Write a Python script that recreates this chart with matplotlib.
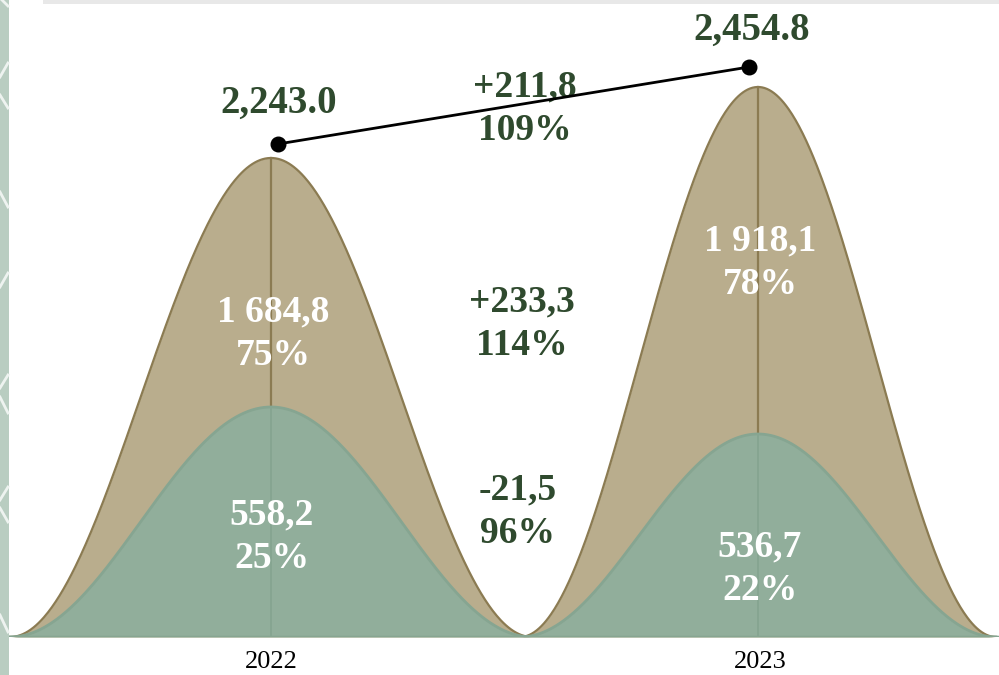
import numpy as np
import matplotlib
matplotlib.use("Agg")
import matplotlib.pyplot as plt
from matplotlib.lines import Line2D
from matplotlib.patches import Rectangle

# values
years = ["2022", "2023"]
total = [2243.0, 2454.8]
main_part = [1684.8, 1918.1]   # tan
base_part = [558.2, 536.7]     # green

# bell heights as they are drawn in the picture (axis units = px above baseline)
bell_total = [479, 550]
bell_base = [230, 203]
dot_height = [493, 570]

TAN, TAN_EDGE = "#b9ad8d", "#8b7b52"
GREEN, GREEN_EDGE = "#91ae9b", "#86a591"
DARK = "#2f4a2e"
SERIF = "Liberation Serif"


def ru(v, dec=1):
    # 1 684,8 style
    s = f"{v:,.{dec}f}"
    return s.replace(",", " ").replace(".", ",")


def bell(x, c, w, h):
    t = np.clip((x - c) / w, -1, 1)
    return h * (1 + np.cos(np.pi * t)) / 2


fig = plt.figure(figsize=(9.99, 6.75), dpi=100)
ax = fig.add_axes([0, 38 / 675, 1, 637 / 675])
ax.set_xlim(-271 / 487, (999 - 271) / 487)
ax.set_ylim(0, 637)

half_w = [261 / 487, 238 / 487]
xs = [np.linspace(i - half_w[i], i + half_w[i], 400) for i in range(2)]

# tan bells
for i in range(2):
    y = bell(xs[i], i, half_w[i], bell_total[i])
    ax.fill_between(xs[i], 0, y, color=TAN, lw=0, zorder=1)
    ax.plot(xs[i], y, color=TAN_EDGE, lw=1.6, zorder=2)
    ax.plot([i, i], [0, bell_total[i]], color=TAN_EDGE, lw=1.6, zorder=2)

# green bells
for i in range(2):
    y = bell(xs[i], i, half_w[i], bell_base[i])
    ax.fill_between(xs[i], 0, y, color=GREEN, lw=0, zorder=3)
    ax.plot(xs[i], y, color=GREEN_EDGE, lw=2, zorder=4)
    ax.plot([i, i], [0, bell_base[i]], color=GREEN_EDGE, lw=1.4, zorder=4)

ax.axhline(0, color=GREEN_EDGE, lw=2.5, zorder=5)

# total line with dots
dot_x = [0 + 7 / 487, 1 - 9 / 487]
ax.plot(dot_x, dot_height, color="black", lw=2, zorder=6)
ax.scatter(dot_x, dot_height, s=110, color="black", zorder=7)

big = dict(family=SERIF, weight="bold", ha="center", va="center")
ax.text(0.016, 534, f"{total[0]:,.1f}", fontsize=28, color=DARK, **big)
ax.text(0.986, 607, f"{total[1]:,.1f}", fontsize=28, color=DARK, **big)

LS = 1.3


def change(a, b):
    d = b - a
    sign = "+" if d > 0 else "-"
    return f"{sign}{ru(abs(d))}\n{round(b / a * 100):.0f}%"


ax.text(0.522, 528, change(total[0], total[1]), fontsize=27, color=DARK,
        linespacing=LS, **big)
ax.text(0.515, 313, change(main_part[0], main_part[1]), fontsize=27, color=DARK,
        linespacing=LS, **big)
ax.text(0.507, 125, change(base_part[0], base_part[1]), fontsize=27, color=DARK,
        linespacing=LS, **big)

main_pos = [(0.004, 303), (1.004, 374)]
base_pos = [(0.002, 100), (1.004, 68)]
for i in range(2):
    ax.text(*main_pos[i], f"{ru(main_part[i])}\n{round(main_part[i] / total[i] * 100)}%",
            fontsize=27, color="white", linespacing=LS, zorder=8, **big)
    ax.text(*base_pos[i], f"{ru(base_part[i])}\n{round(base_part[i] / total[i] * 100)}%",
            fontsize=27, color="white", linespacing=LS, zorder=8, **big)

ax.set_xticks([0, 1.004])
ax.set_xticklabels(years, family=SERIF, fontsize=19)
ax.tick_params(axis="x", length=0, pad=10)
ax.set_yticks([])
for sp in ax.spines.values():
    sp.set_visible(False)

# decoration: left strip with chevrons and a grey band on top
deco = fig.add_axes([0, 0, 1, 1], zorder=10)
deco.set_xlim(0, 999)
deco.set_ylim(675, 0)
deco.axis("off")
deco.patch.set_alpha(0)
deco.add_patch(Rectangle((0, 0), 8.5, 675, color="#b9cdc1", lw=0))
deco.add_patch(Rectangle((43, 0), 956, 4, color="#e8e8e8", lw=0))
segs = [((0, -2), (8, 6)), ((8, 63), (0, 77)), ((0, 95), (8, 108)),
        ((0, 192), (8, 207)), ((8, 273), (0, 287)), ((8, 375), (0, 388)),
        ((0, 397), (8, 413)), ((8, 487), (0, 500)), ((0, 508), (8, 522)),
        ((0, 615), (8, 632))]
for a, b in segs:
    deco.add_line(Line2D([a[0], b[0]], [a[1], b[1]], color="#eef3f0", lw=2))

fig.savefig("out.png", dpi=100)
